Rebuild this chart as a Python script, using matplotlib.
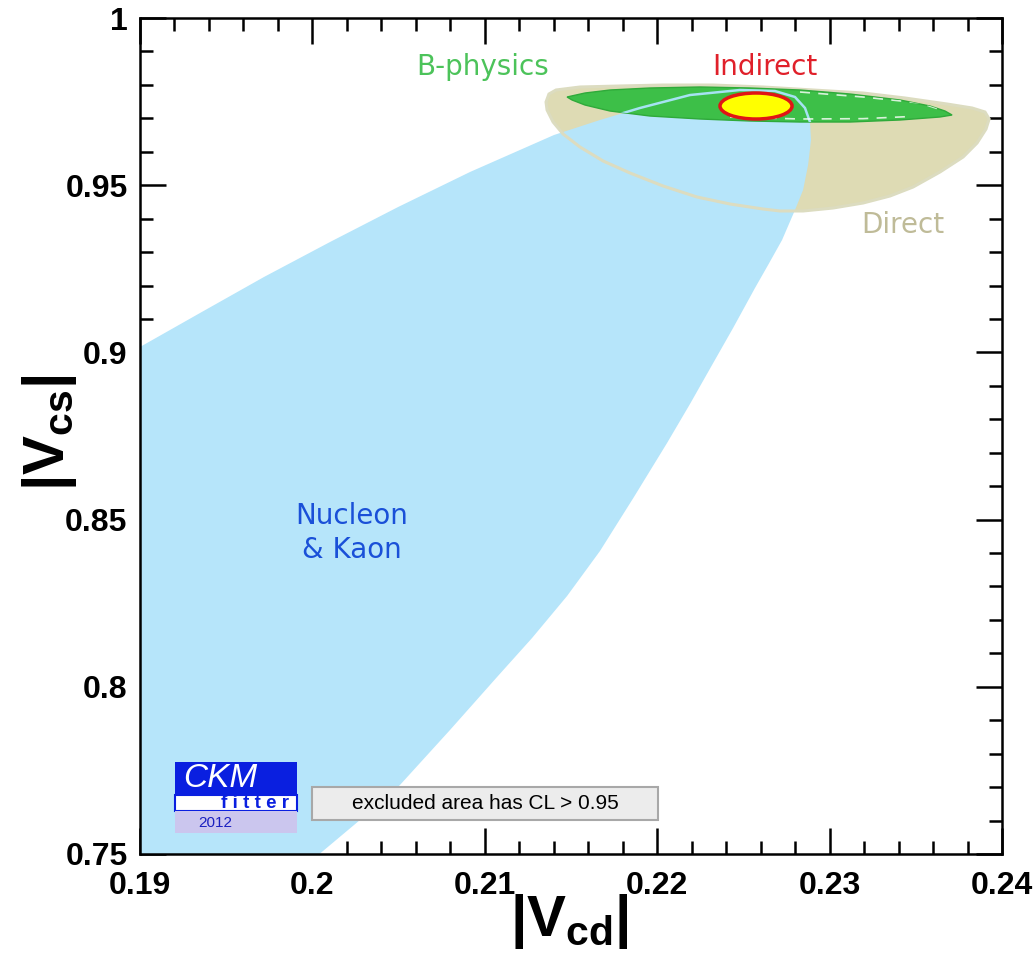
import matplotlib
matplotlib.use("Agg")
import matplotlib.pyplot as plt
from matplotlib.patches import Polygon, Ellipse, Rectangle
from matplotlib.ticker import MultipleLocator

plt.rcParams['font.family'] = ['DejaVu Sans']
plt.rcParams['mathtext.fontset'] = 'custom'
plt.rcParams['mathtext.rm'] = 'Liberation Sans:bold'
plt.rcParams['mathtext.bf'] = 'Liberation Sans:bold'
plt.rcParams['mathtext.it'] = 'Liberation Sans:bold'

# Nucleon & Kaon constraint (|Vcd|, |Vcs|) outline
nk_x = [0.1895, 0.19000, 0.19348, 0.19719, 0.20102, 0.20497, 0.20914, 0.21401, 0.21668,
        0.21900, 0.22190, 0.22480, 0.22683, 0.22799, 0.22857, 0.22886, 0.22892, 0.22875,
        0.22846, 0.22799, 0.22724, 0.22643, 0.22567, 0.22440, 0.22318, 0.22190, 0.22057,
        0.21865, 0.21668, 0.21477, 0.21274, 0.21071, 0.20798, 0.20508, 0.20276, 0.20027,
        0.1895]
nk_y = [0.9000, 0.90162, 0.91178, 0.92255, 0.93301, 0.94348, 0.95395, 0.96501, 0.96950,
        0.97309, 0.97697, 0.97847, 0.97817, 0.97638, 0.97309, 0.96890, 0.96352, 0.95604,
        0.94857, 0.94258, 0.93361, 0.92614, 0.91926, 0.90730, 0.89623, 0.88457, 0.87291,
        0.85676, 0.84061, 0.82715, 0.81459, 0.80293, 0.78708, 0.77064, 0.76017, 0.74940,
        0.7494]

# Direct measurements
direct_x = [0.21355, 0.21372, 0.21413, 0.21552, 0.21784, 0.22034, 0.22324, 0.22614,
            0.22904, 0.23194, 0.23437, 0.23681, 0.23826, 0.23901, 0.23925, 0.23907,
            0.23855, 0.23774, 0.23640, 0.23484, 0.23350, 0.23194, 0.23020, 0.22846,
            0.22712, 0.22614, 0.22422, 0.22231, 0.22034, 0.21842, 0.21686, 0.21552,
            0.21454, 0.21396, 0.21361]
direct_y = [0.97488, 0.97727, 0.97847, 0.97937, 0.97967, 0.97996, 0.97996, 0.97937,
            0.97847, 0.97757, 0.97608, 0.97428, 0.97309, 0.97189, 0.96980, 0.96681,
            0.96262, 0.95843, 0.95395, 0.94946, 0.94677, 0.94468, 0.94318, 0.94229,
            0.94229, 0.94288, 0.94438, 0.94647, 0.94976, 0.95365, 0.95724, 0.96142,
            0.96531, 0.96890, 0.97249]

# B-physics
bphys_x = [0.21477, 0.21581, 0.21726, 0.21958, 0.22248, 0.22538, 0.22828, 0.23118,
           0.23408, 0.23582, 0.23669, 0.23710, 0.23640, 0.23408, 0.23118, 0.22828,
           0.22538, 0.22248, 0.21958, 0.21726, 0.21581, 0.21506]
bphys_y = [0.97638, 0.97757, 0.97847, 0.97907, 0.97937, 0.97907, 0.97847, 0.97727,
           0.97548, 0.97368, 0.97219, 0.97099, 0.97040, 0.96950, 0.96890, 0.96890,
           0.96920, 0.96980, 0.97069, 0.97219, 0.97398, 0.97548]

# white contour pieces inside B-physics region
wline1_x = [0.22828, 0.23194, 0.23524, 0.23650]
wline1_y = [0.97787, 0.97638, 0.97458, 0.97250]
wline2_x = [0.22422, 0.22828, 0.23194, 0.23450]
wline2_y = [0.97040, 0.96980, 0.96990, 0.97050]

# Indirect (global fit)
ind_x, ind_y = 0.22573, 0.97368
ind_w, ind_h = 0.00418, 0.00778

xticks = [0.19, 0.20, 0.21, 0.22, 0.23, 0.24]
xlabels = ['0.19', '0.2', '0.21', '0.22', '0.23', '0.24']
yticks = [0.75, 0.80, 0.85, 0.90, 0.95, 1.00]
ylabels = ['0.75', '0.8', '0.85', '0.9', '0.95', '1']

fig = plt.figure(figsize=(10.34, 9.63), dpi=100)
ax = fig.add_axes([0.1354, 0.1132, 0.8337, 0.8681])

tan = '#dedbb4'
blue = '#b6e5fa'

ax.add_patch(Polygon(list(zip(direct_x, direct_y)), closed=True, fc=tan, ec='none', zorder=1))
ax.add_patch(Polygon(list(zip(nk_x, nk_y)), closed=True, fc=blue, ec='none', zorder=2))
ax.add_patch(Polygon(list(zip(direct_x, direct_y)), closed=True, fc='none',
                     ec='#dcdcc0', lw=2.2, zorder=3))
green = Polygon(list(zip(bphys_x, bphys_y)), closed=True, fc='#3dbf48',
                ec='#2faa3a', lw=1, zorder=4)
ax.add_patch(green)
# light blue nucleon outline visible on the green area
edge = Polygon(list(zip(nk_x, nk_y)), closed=True, fc='none', ec='#a6e2f2', lw=1.8, zorder=5)
ax.add_patch(edge)
edge.set_clip_path(green)
for wx, wy in [(wline1_x, wline1_y), (wline2_x, wline2_y)]:
    ln, = ax.plot(wx, wy, color='white', lw=1.2, ls=(0, (6, 5)), alpha=0.8, zorder=5)
    ln.set_clip_path(green)
ax.add_patch(Ellipse((ind_x, ind_y), ind_w, ind_h, fc='#ffff00', ec='#e01515', lw=2.5, zorder=6))

ax.text(0.20990, 0.98535, 'B-physics', color='#4cc35a', fontsize=20, ha='center', va='center')
ax.text(0.22625, 0.98535, 'Indirect', color='#e0202a', fontsize=20, ha='center', va='center')
ax.text(0.23426, 0.9381, 'Direct', color='#bfbb98', fontsize=20, ha='center', va='center')
ax.text(0.20230, 0.8460, 'Nucleon\n& Kaon', color='#1a50d8', fontsize=20, ha='center',
        va='center', linespacing=1.25)

ax.set_xlim(0.19, 0.24)
ax.set_ylim(0.75, 1.0)
ax.set_xticks(xticks)
ax.set_xticklabels(xlabels)
ax.set_yticks(yticks)
ax.set_yticklabels(ylabels)
ax.xaxis.set_minor_locator(MultipleLocator(0.002))
ax.yaxis.set_minor_locator(MultipleLocator(0.01))
ax.tick_params(which='both', direction='in', top=True, right=True, width=1.8)
ax.tick_params(which='major', length=19)
ax.tick_params(which='minor', length=9.5)
ax.tick_params(axis='y', pad=9)
ax.tick_params(axis='x', pad=12)
for lab in ax.get_xticklabels() + ax.get_yticklabels():
    lab.set_fontfamily('Liberation Sans')
    lab.set_fontweight('bold')
    lab.set_fontsize(23)
for s in ax.spines.values():
    s.set_linewidth(1.8)

fig.text(0.551, 0.043, r'$|\mathbf{V}_{\mathbf{cd}}|$', fontsize=42, ha='center', va='center')
fig.text(0.048, 0.551, r'$|\mathbf{V}_{\mathbf{cs}}|$', fontsize=42, ha='center', va='center',
         rotation=90)

# CKMfitter logo
T = ax.transAxes
ax.add_patch(Rectangle((0.0406, 0.0706), 0.1415, 0.0394, transform=T, fc='#0a1fe0', ec='none', zorder=7))
ax.add_patch(Rectangle((0.0406, 0.0514), 0.1415, 0.0192, transform=T, fc='white', ec='#0a1fe0',
                       lw=1.5, zorder=7))
ax.add_patch(Rectangle((0.0406, 0.0251), 0.1415, 0.0263, transform=T, fc='#cbc6ee', ec='none', zorder=7))
ax.text(0.0935, 0.0905, 'CKM', transform=T, color='white', fontsize=24, style='italic',
        family='Liberation Sans', ha='center', va='center', zorder=8)
ax.text(0.133, 0.0607, 'f i t t e r', transform=T, color='#0a1fe0', fontsize=13.5,
        weight='bold', family='Liberation Sans', ha='center', va='center', zorder=8)
ax.text(0.0870, 0.0375, '2012', transform=T, color='#1a20c0', fontsize=11,
        family='Liberation Sans', ha='center', va='center', zorder=8)

ax.add_patch(Rectangle((0.1995, 0.0407), 0.4015, 0.0394, transform=T, fc='#ececec',
                       ec='#a8a8a8', lw=1.5, zorder=7))
ax.text(0.4003, 0.0604, 'excluded area has CL > 0.95', transform=T, fontsize=15,
        family='Liberation Sans', ha='center', va='center', zorder=8)

fig.savefig('out.png', dpi=100)
